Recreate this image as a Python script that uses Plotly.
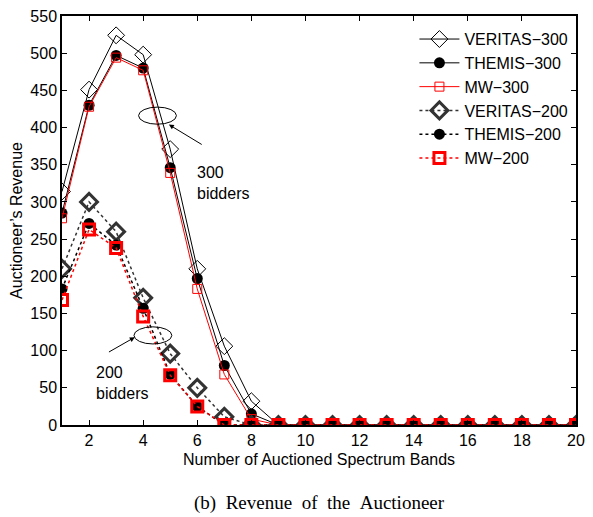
import plotly.graph_objects as go

bands = list(range(1, 21))
veritas_300 = [314, 451, 524, 498, 371, 210, 106, 32] + [0] * 12
themis_300 = [285, 430, 497, 480, 346, 197, 80, 15] + [0] * 12
mw_300 = [278, 428, 494, 477, 339, 183, 68, 8] + [0] * 12
veritas_200 = [210, 300, 260, 171, 96, 50, 11] + [0] * 13
themis_200 = [183, 271, 242, 157, 68, 25, 0] + [0] * 13
mw_200 = [168, 263, 238, 146, 67, 25, 0] + [0] * 13

x_ticks = list(range(2, 21, 2))
y_ticks = list(range(0, 551, 50))

fig = go.Figure()
fig.add_trace(go.Scatter(x=bands, y=veritas_300, name="VERITAS\u2212300", mode="lines+markers",
                         line=dict(color="black", width=1),
                         marker=dict(symbol="diamond-open", size=13, color="black", line=dict(width=1))))
fig.add_trace(go.Scatter(x=bands, y=themis_300, name="THEMIS\u2212300", mode="lines+markers",
                         line=dict(color="black", width=1),
                         marker=dict(symbol="circle", size=11, color="black")))
fig.add_trace(go.Scatter(x=bands, y=mw_300, name="MW\u2212300", mode="lines+markers",
                         line=dict(color="red", width=1),
                         marker=dict(symbol="square-open", size=9, color="red", line=dict(width=1))))
fig.add_trace(go.Scatter(x=bands, y=veritas_200, name="VERITAS\u2212200", mode="lines+markers",
                         line=dict(color="#333333", width=1.5, dash="dot"),
                         marker=dict(symbol="diamond-open", size=13, color="#333333", line=dict(width=3))))
fig.add_trace(go.Scatter(x=bands, y=themis_200, name="THEMIS\u2212200", mode="lines+markers",
                         line=dict(color="black", width=1.5, dash="dot"),
                         marker=dict(symbol="circle", size=11, color="black")))
fig.add_trace(go.Scatter(x=bands, y=mw_200, name="MW\u2212200", mode="lines+markers",
                         line=dict(color="red", width=1.5, dash="dot"),
                         marker=dict(symbol="square-open", size=11, color="red", line=dict(width=3))))

font = "Liberation Sans, Arial, sans-serif"
fig.update_layout(
    width=593, height=517,
    margin=dict(l=62, r=8, t=14, b=92),
    plot_bgcolor="white", paper_bgcolor="white",
    font=dict(family=font, size=16, color="black"),
    showlegend=True,
    legend=dict(x=0.995, y=0.985, xanchor="right", yanchor="top", bgcolor="rgba(0,0,0,0)",
                font=dict(size=16), tracegroupgap=0, itemwidth=40),
)
fig.update_xaxes(range=[1, 20], tickvals=x_ticks, ticks="inside", ticklen=5, tickcolor="black",
                 showline=True, linecolor="black", linewidth=1.5, mirror="ticks", showgrid=False,
                 zeroline=False, tickfont=dict(size=16),
                 title=dict(text="Number of Auctioned Spectrum Bands", font=dict(size=16), standoff=6))
fig.update_yaxes(range=[0, 550], tickvals=y_ticks, ticks="inside", ticklen=5, tickcolor="black",
                 showline=True, linecolor="black", linewidth=1.5, mirror="ticks", showgrid=False,
                 zeroline=False, tickfont=dict(size=16),
                 title=dict(text="Auctioneer\u2019s Revenue", font=dict(size=16), standoff=4))

# ellipses
fig.add_shape(type="circle", xref="x", yref="y", x0=4.53 - 0.7, x1=4.53 + 0.7, y0=416 - 11.5, y1=416 + 11.5,
              line=dict(color="black", width=1))
fig.add_shape(type="circle", xref="x", yref="y", x0=4.36 - 0.7, x1=4.36 + 0.7, y0=120.5 - 11.5, y1=120.5 + 11.5,
              line=dict(color="black", width=1))

fig.add_annotation(x=4.95, y=404, ax=6.22, ay=376, xref="x", yref="y", axref="x", ayref="y",
                   showarrow=True, arrowhead=2, arrowsize=1, arrowwidth=1, arrowcolor="black", text="")
fig.add_annotation(x=3.69, y=118, ax=2.68, ay=97, xref="x", yref="y", axref="x", ayref="y",
                   showarrow=True, arrowhead=2, arrowsize=1, arrowwidth=1, arrowcolor="black", text="")
fig.add_annotation(x=5.93, y=354, xref="x", yref="y", xanchor="left", yanchor="top", align="left",
                   showarrow=False, text="300<br>bidders", font=dict(size=16))
fig.add_annotation(x=2.17, y=85, xref="x", yref="y", xanchor="left", yanchor="top", align="left",
                   showarrow=False, text="200<br>bidders", font=dict(size=16))

gap = " \u00a0"
caption = gap.join(["(b)", "Revenue", "of", "the", "Auctioneer"])
fig.add_annotation(x=0.5, y=-0.19, xref="paper", yref="paper", xanchor="center", yanchor="middle",
                   showarrow=False, text=caption,
                   font=dict(family="Liberation Serif, Times New Roman, serif", size=19))

fig.write_html("out.html")
